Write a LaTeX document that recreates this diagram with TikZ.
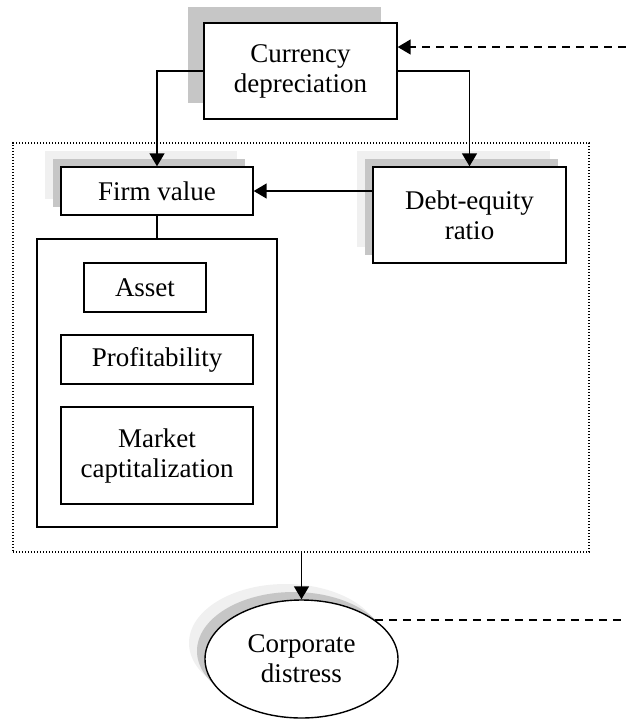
\documentclass[tikz,border=0pt]{standalone}
\usepackage{fontspec}
\setmainfont{Liberation Serif}
\usetikzlibrary{arrows.meta,shadows,shapes.geometric}
\tikzset{
  box/.style={draw, fill=white, line width=0.7pt, align=center, inner sep=0pt},
  shade1/.style={general shadow={shadow xshift=-8pt, shadow yshift=8pt, fill=gray!45}},
  shade2/.style={general shadow={shadow xshift=-8pt, shadow yshift=8pt, fill=gray!12},
                 general shadow={shadow xshift=-4pt, shadow yshift=4pt, fill=gray!45}},
  link/.style={draw, line width=0.7pt, -{Triangle[length=6.5pt,width=7.5pt]}},
  hint/.style={link, dash pattern=on 4pt off 3pt}
}
\begin{document}
\begin{tikzpicture}[x=0.5pt, y=-0.5pt, font=\fontsize{13.5}{15}\selectfont]
        \path[use as bounding box] (0,0) rectangle (626,720);
        \node[draw, line width=0.7pt, dash pattern=on 0.6pt off 0.9pt, minimum width=288pt, minimum height=204.5pt] at (301,347.5) (frame) {};
        \node[box, shade1, minimum width=96.5pt, minimum height=48pt] at (300.5,71) (cur) {Currency\\depreciation};
        \node[box, shade2, minimum width=96pt, minimum height=24pt] at (157,191) (firm) {Firm value};
        \node[box, shade2, minimum width=96.5pt, minimum height=48pt] at (469.5,215) (debt) {Debt-equity\\ratio};
        \node[box, minimum width=120pt, minimum height=144pt] at (157,383) (group) {};
        \node[box, minimum width=61pt, minimum height=24.5pt] at (145,287.5) (asset) {Asset};
        \node[box, minimum width=96pt, minimum height=24.5pt] at (157,359.5) (profit) {Profitability};
        \node[box, minimum width=96pt, minimum height=48.5pt] at (157,455.5) (market) {Market\\captitalization};
        \node[box, ellipse, shade2, minimum width=96.5pt, minimum height=59pt] at (301.5,659) (distress) {Corporate\\distress};
        \coordinate (curin) at (626,47);
        \coordinate (distout) at (626,623);
        \path[link] (cur.west) -| (firm.north);
        \path[link] (cur.east) -| (debt.north);
        \path[hint] (curin) -- (cur.east |- curin);
        \path[link] (firm.east -| debt.west) -- (firm.east);
        \path[draw, line width=0.7pt] (firm.south) -- (group.north);
        \path[link] (frame.south -| distress.north) -- (distress.north);
        \path[draw, line width=0.7pt, dash pattern=on 4pt off 3pt] (distress.28) -- (distress.28 -| distout);
      \end{tikzpicture}
\end{document}
